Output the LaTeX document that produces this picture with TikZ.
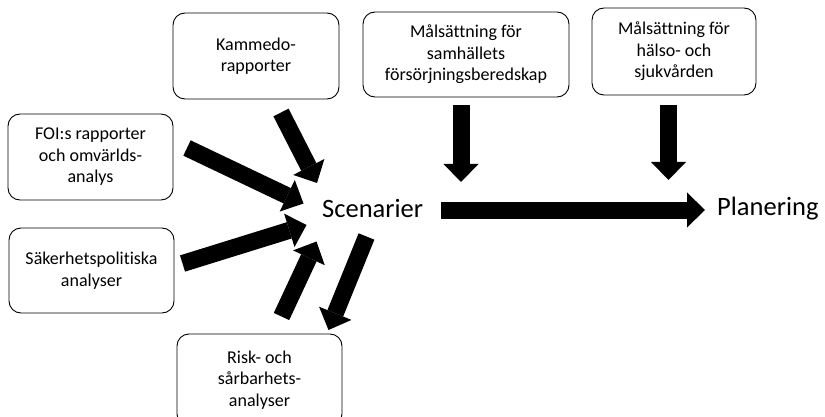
\documentclass[tikz,border=0pt]{standalone}
\usepackage{fontspec}
\setmainfont[Ligatures={NoCommon}]{Carlito}
\usetikzlibrary{arrows.meta}
\begin{document}
\begin{tikzpicture}[x=1pt,y=-1pt,
  box/.style={draw=black, line width=0.9pt, rounded corners=12pt, align=center,
    font=\fontsize{18}{21.5}\selectfont, inner sep=0pt},
  big/.style={font=\fontsize{26.5}{30}\selectfont, inner sep=0pt},
  blk/.style={line width=17pt, -{Triangle[width=35pt,length=18pt,line width=0pt]}}]
\clip (0,0) rectangle (825,417);
\fill[white] (0,0) rectangle (825,417);

\node[box, minimum width=166pt, minimum height=86pt] (kam) at (256,56) {Kammedo-\\rapporter};
\node[box, minimum width=206pt, minimum height=85pt] (sam) at (466,54.5) {Målsättning för\\samhällets\\försörjningsberedskap};
\node[box, minimum width=164pt, minimum height=87pt] (hal) at (674,51.5) {Målsättning för\\hälso- och\\sjukvården};
\node[box, minimum width=165pt, minimum height=86pt] (foi) at (90.5,157) {FOI:s rapporter\\och omvärlds-\\analys};
\node[box, minimum width=165pt, minimum height=85pt] (sak) at (91.5,270.5) {Säkerhetspolitiska\\analyser};
\node[box, minimum width=165pt, minimum height=92pt] (risk) at (259.5,380) {Risk- och\\sårbarhets-\\analyser};

\node[big, anchor=base west] (scen) at (322,217) {Scenarier};
\node[big, anchor=base west] (plan) at (717,215.5) {Planering};

\coordinate (kS) at (281,112.5);   \coordinate (kE) at (317,183);
\coordinate (fS) at (187,148);     \coordinate (fE) at (303.5,203.5);
\coordinate (sS) at (182.5,263.5); \coordinate (sE) at (306.5,225);
\coordinate (uS) at (281.5,316.5); \coordinate (uE) at (316.5,241.5);
\coordinate (dS) at (366.5,236.5); \coordinate (dE) at (328.5,330);
\coordinate (hS) at (441,210);     \coordinate (hE) at (705,210);
\coordinate (m1S) at (461,105);    \coordinate (m1E) at (461,182);
\coordinate (m2S) at (668.5,105);  \coordinate (m2E) at (668.5,180);

\draw[blk] (kS) -- (kE);
\draw[blk] (fS) -- (fE);
\draw[blk] (sS) -- (sE);
\draw[blk] (uS) -- (uE);
\draw[blk] (dS) -- (dE);
\draw[blk] (hS) -- (hE);
\draw[blk] (m1S) -- (m1E);
\draw[blk] (m2S) -- (m2E);
\end{tikzpicture}
\end{document}
